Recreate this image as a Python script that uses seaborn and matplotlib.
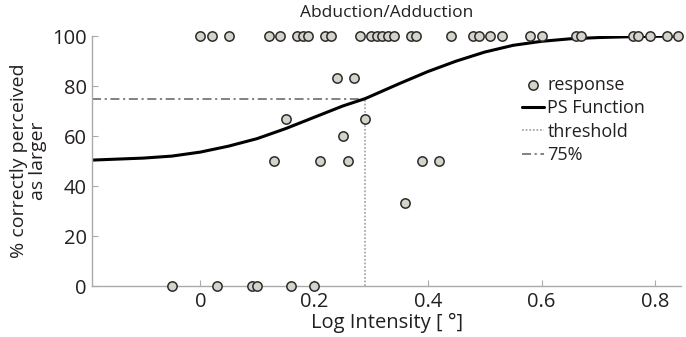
import numpy as np
import pandas as pd
import seaborn as sns
import matplotlib.pyplot as plt

# response data (log intensity, % correct)
resp_x_100 = [0.0, 0.02, 0.05, 0.12, 0.14, 0.17, 0.18, 0.19, 0.22, 0.23,
              0.28, 0.30, 0.31, 0.32, 0.33, 0.34, 0.37, 0.38, 0.44, 0.48,
              0.49, 0.51, 0.53, 0.58, 0.60, 0.66, 0.67, 0.76, 0.77, 0.79,
              0.82, 0.84]
resp_x_mid = [0.24, 0.27, 0.15, 0.29, 0.25, 0.13, 0.21, 0.26, 0.39, 0.42, 0.36]
resp_y_mid = [83.3, 83.3, 66.7, 66.7, 60.0, 50.0, 50.0, 50.0, 50.0, 50.0, 33.3]
resp_x_0 = [-0.05, 0.03, 0.09, 0.10, 0.16, 0.20]

# fitted psychometric function
ps_x = [-0.19, -0.10, -0.05, 0.00, 0.05, 0.10, 0.15, 0.20, 0.25, 0.29, 0.30,
        0.35, 0.40, 0.45, 0.50, 0.55, 0.60, 0.65, 0.70, 0.75, 0.80, 0.845]
ps_y = [50.4, 51.2, 52.0, 53.6, 56.0, 59.0, 63.0, 67.5, 72.0, 75.0, 76.0,
        81.0, 85.8, 90.0, 93.6, 96.3, 97.9, 98.9, 99.4, 99.7, 99.9, 100.0]

threshold = 0.29
level = 75
xlim = (-0.19, 0.845)

df = pd.DataFrame({
    "x": resp_x_100 + resp_x_mid + resp_x_0,
    "y": [100] * len(resp_x_100) + resp_y_mid + [0] * len(resp_x_0),
})
ps = pd.DataFrame({"x": ps_x, "y": ps_y})

sns.set_style("ticks")
plt.rcParams["font.family"] = ["Open Sans", "DejaVu Sans"]
plt.rcParams["text.color"] = "#231f20"
plt.rcParams["axes.labelcolor"] = "#231f20"
plt.rcParams["xtick.color"] = "#aaaaaa"
plt.rcParams["ytick.color"] = "#aaaaaa"
plt.rcParams["xtick.labelcolor"] = "#231f20"
plt.rcParams["ytick.labelcolor"] = "#231f20"

fig = plt.figure(figsize=(6.86, 3.37), dpi=100)
ax = fig.add_axes([0.1346, 0.151, 0.858, 0.742])

ax.plot([xlim[0], threshold], [level, level], color="#777777", lw=1.3,
        ls=(0, (5, 2, 1.2, 2)), label="75%", zorder=1)
ax.plot([threshold, threshold], [0, level], color="#aaaaaa", lw=1.3,
        ls=(0, (1, 1)), label="threshold", zorder=1)
sns.lineplot(data=ps, x="x", y="y", color="black", lw=2.2, ax=ax,
             label="PS Function", zorder=2)
sns.scatterplot(data=df, x="x", y="y", s=45, color="#d6d3cb",
                edgecolor="#2b2b2b", linewidth=1.1, ax=ax, label="response",
                clip_on=False, zorder=3)

ax.set_xlim(*xlim)
ax.set_ylim(0, 100)
ax.set_xticks([0, 0.2, 0.4, 0.6, 0.8])
ax.set_xticklabels(["0", "0.2", "0.4", "0.6", "0.8"])
ax.set_yticks([0, 20, 40, 60, 80, 100])
ax.tick_params(direction="in", length=4, width=0.8, labelsize=14.5, pad=4)
for s in ["top", "right"]:
    ax.spines[s].set_visible(False)
for s in ["left", "bottom"]:
    ax.spines[s].set_color("#aaaaaa")
    ax.spines[s].set_linewidth(1.0)

ax.set_xlabel("Log Intensity [ °]", fontsize=14.5, labelpad=1)
ax.set_ylabel("% correctly perceived\nas larger", fontsize=14, labelpad=4,
              linespacing=1.05)
ax.set_title("Abduction/Adduction", fontsize=12.5, pad=14)

h, l = ax.get_legend_handles_labels()
order = [l.index(n) for n in ["response", "PS Function", "threshold", "75%"]]
ax.legend([h[i] for i in order], [l[i] for i in order], loc="upper left",
          bbox_to_anchor=(0.718, 0.87), frameon=False, fontsize=13,
          handlelength=1.2, handletextpad=0.2, labelspacing=0.3,
          borderaxespad=0)

plt.savefig("out.png", dpi=100)
